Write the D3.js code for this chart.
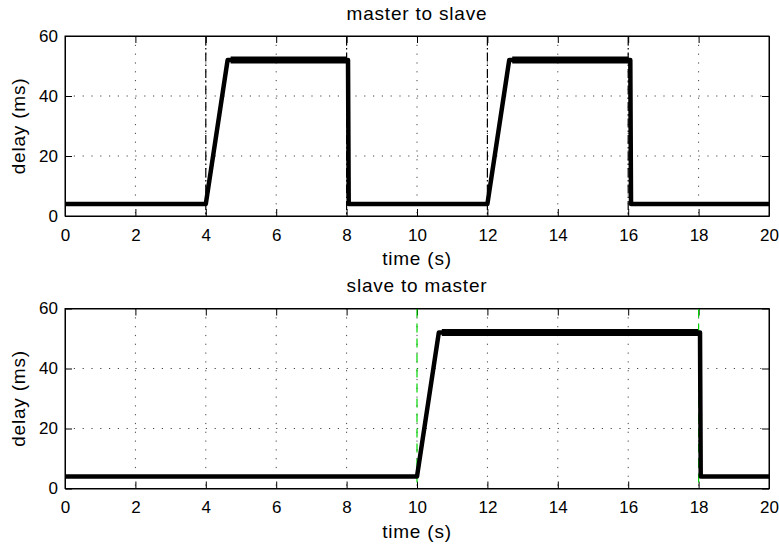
<!DOCTYPE html>
<html>
<head>
<meta charset="utf-8">
<script src="https://cdn.jsdelivr.net/npm/d3@7"></script>
<style>
	body { margin: 0; background: #fff; }
	text { font-family: "Liberation Sans", Arial, sans-serif; fill: #000; }
</style>
</head>
<body>
<div id="chart"></div>
<script>
// breakpoints of the delay traces (time in s, delay in ms)
const m2s_time = [0, 4.0, 4.62, 8.04, 8.06, 12.0, 12.62, 16.06, 16.08, 20];
const m2s_delay = [4, 4, 52, 52, 4, 4, 52, 52, 4, 4];
const s2m_time = [0, 10.0, 10.62, 18.04, 18.06, 20];
const s2m_delay = [4, 4, 52, 52, 4, 4];

// switching instants drawn as vertical markers
const m2s_marks = [4, 8, 12, 16];
const s2m_marks = [10, 18];

const time_ticks = [0, 2, 4, 6, 8, 10, 12, 14, 16, 18, 20];
const delay_ticks = [0, 20, 40, 60];

const W = 779, H = 544;
const margin = { left: 65, right: 10 };
const width = W - margin.left - margin.right,
	height = 180;

const svg = d3
	.select("#chart")
	.append("svg")
	.attr("width", W)
	.attr("height", H);

function panel(top, title, time, delay, marks, markColour, markDash) {
	const g = svg
		.append("g")
		.attr("transform", `translate(${margin.left},${top})`);

	const x = d3.scaleLinear().domain([0, 20]).range([0, width]);
	const y = d3.scaleLinear().domain([0, 60]).range([height, 0]);

	// dotted grid
	g.append("g")
		.selectAll("line")
		.data(time_ticks.slice(1, -1))
		.join("line")
		.attr("x1", (d) => x(d))
		.attr("x2", (d) => x(d))
		.attr("y1", 0)
		.attr("y2", height)
		.attr("stroke", "#444")
		.attr("stroke-width", 1)
		.attr("stroke-dasharray", "1.2,7.6");

	g.append("g")
		.selectAll("line")
		.data(delay_ticks.slice(1, -1))
		.join("line")
		.attr("x1", 0)
		.attr("x2", width)
		.attr("y1", (d) => y(d))
		.attr("y2", (d) => y(d))
		.attr("stroke", "#444")
		.attr("stroke-width", 1)
		.attr("stroke-dasharray", "1.2,7.6");

	// axes with inward ticks, box on
	const xb = g
		.append("g")
		.attr("transform", `translate(0,${height})`)
		.call(d3.axisBottom(x).tickValues(time_ticks).tickSizeInner(-7).tickSizeOuter(0).tickPadding(12.5));
	xb.selectAll("text").style("font-size", "17px");

	g.append("g")
		.call(d3.axisTop(x).tickValues(time_ticks).tickSizeInner(-7).tickSizeOuter(0).tickFormat(""));

	const yl = g
		.append("g")
		.call(d3.axisLeft(y).tickValues(delay_ticks).tickSizeInner(-7).tickSizeOuter(0).tickPadding(7));
	yl.selectAll("text").style("font-size", "17px");

	g.append("g")
		.attr("transform", `translate(${width},0)`)
		.call(d3.axisRight(y).tickValues(delay_ticks).tickSizeInner(-7).tickSizeOuter(0).tickFormat(""));

	g.selectAll(".domain").attr("stroke", "#000");
	g.selectAll(".tick line").attr("stroke", "#000");

	// vertical switching markers
	g.append("g")
		.selectAll("line")
		.data(marks)
		.join("line")
		.attr("x1", (d) => x(d))
		.attr("x2", (d) => x(d))
		.attr("y1", 0)
		.attr("y2", height)
		.attr("stroke", markColour)
		.attr("stroke-width", 1.2)
		.attr("stroke-dasharray", markDash);

	const pts = time.map((t, i) => [t, delay[i]]);
	g.append("path")
		.datum(pts)
		.attr("fill", "none")
		.attr("stroke", "#000")
		.attr("stroke-width", 4.5)
		.attr("stroke-linejoin", "round")
		.attr("d", d3.line().x((d) => x(d[0])).y((d) => y(d[1])));

	// noisy flat top looks thicker in the original
	g.append("g")
		.selectAll("line")
		.data(pts.filter((d, i) => i > 0 && d[1] === 52 && pts[i - 1][1] === 52))
		.join("line")
		.attr("x1", (d, i) => x(pts[pts.indexOf(d) - 1][0]) + 3)
		.attr("x2", (d) => x(d[0]) - 2)
		.attr("y1", y(52))
		.attr("y2", y(52))
		.attr("stroke", "#000")
		.attr("stroke-width", 7);

	g.append("rect")
		.attr("width", width)
		.attr("height", height)
		.attr("fill", "none")
		.attr("stroke", "#000")
		.attr("stroke-width", 1);

	g.append("text")
		.attr("x", width / 2)
		.attr("y", -16.5)
		.attr("text-anchor", "middle")
		.style("font-size", "19px")
		.style("letter-spacing", "0.8px")
		.text(title);

	g.append("text")
		.attr("x", width / 2)
		.attr("y", height + 49)
		.attr("text-anchor", "middle")
		.style("font-size", "19px")
		.style("letter-spacing", "0.8px")
		.text("time (s)");

	g.append("text")
		.attr("transform", `translate(${25 - margin.left},${height / 2}) rotate(-90)`)
		.attr("text-anchor", "middle")
		.style("font-size", "19px")
		.style("letter-spacing", "0.8px")
		.text("delay (ms)");
}

panel(36, "master to slave", m2s_time, m2s_delay, m2s_marks, "#000", "9,3,1.5,3");
panel(308.5, "slave to master", s2m_time, s2m_delay, s2m_marks, "#00d400", "9,6");
</script>
</body>
</html>
